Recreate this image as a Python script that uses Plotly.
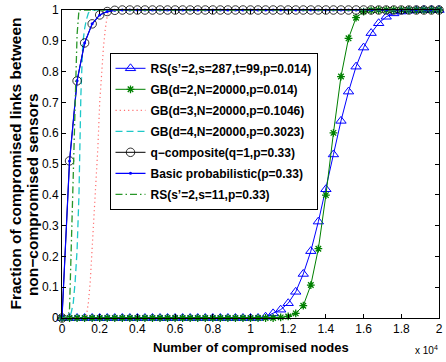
import plotly.graph_objects as go

# ---------------- data ----------------
x_coarse = list(range(0, 20001, 400))  # 51 sample points (0 ... 2 x 10^4)

rs1_y = [0]*27 + [0.004, 0.015, 0.027, 0.048, 0.085, 0.143, 0.217, 0.313, 0.418,
                  0.531, 0.64, 0.735, 0.816, 0.878, 0.925, 0.957, 0.978, 0.989,
                  0.995, 0.998, 0.999, 1, 1, 1]

gb2_y = [0]*29 + [0.002, 0.005, 0.015, 0.04, 0.107, 0.225, 0.399, 0.601, 0.784,
                  0.908, 0.975, 0.995, 0.999, 1, 1, 1, 1, 1, 1, 1, 1, 1]

qcomp_y = [0, 0.51, 0.77, 0.893, 0.955, 0.984, 0.995, 0.999] + [1]*43
basic_y = [0, 0.51, 0.77, 0.893, 0.955, 0.984, 0.995, 0.999] + [1]*43

gb3_x = [0, 1200, 1300, 1400, 1500, 1600, 1700, 1800, 1900, 2000, 2100, 2200, 2300, 2400, 2500, 20000]
gb3_y = [0, 0, 0.01, 0.05, 0.12, 0.22, 0.32, 0.42, 0.55, 0.7, 0.8, 0.88, 0.94, 0.98, 1, 1]

gb4_x = [0, 400, 500, 600, 700, 800, 900, 1000, 1100, 1200, 1300, 1400, 1500, 1600, 20000]
gb4_y = [0, 0, 0.02, 0.05, 0.12, 0.22, 0.4, 0.72, 0.89, 0.94, 0.97, 0.99, 0.998, 1, 1]

rs2_x = [0, 300, 400, 500, 600, 700, 800, 900, 20000]
rs2_y = [0, 0, 0.03, 0.22, 0.47, 0.7, 0.92, 1, 1]

x_tickvals = [0, 2000, 4000, 6000, 8000, 10000, 12000, 14000, 16000, 18000, 20000]
x_ticktext = ["0", "0.2", "0.4", "0.6", "0.8", "1", "1.2", "1.4", "1.6", "1.8", "2"]
y_tickvals = [0, 0.1, 0.2, 0.3, 0.4, 0.5, 0.6, 0.7, 0.8, 0.9, 1]
y_ticktext = ["0", "0.1", "0.2", "0.3", "0.4", "0.5", "0.6", "0.7", "0.8", "0.9", "1"]

names = [
    "RS(s’=2,s=287,t=99,p=0.014)",
    "GB(d=2,N=20000,p=0.014)",
    "GB(d=3,N=20000,p=0.1046)",
    "GB(d=4,N=20000,p=0.3023)",
    "q−composite(q=1,p=0.33)",
    "Basic probabilistic(p=0.33)",
    "RS(s’=2,s=11,p=0.33)",
]

BLUE = "#0000ff"
GREEN = "#008000"
FONT = "Liberation Sans, Arial, sans-serif"

fig = go.Figure()

fig.add_trace(go.Scatter(
    x=x_coarse, y=rs1_y, name=names[0], legendgroup="g1", mode="lines+markers",
    line=dict(color=BLUE, width=1),
    marker=dict(symbol="triangle-up-open", size=9, color=BLUE, line=dict(width=1, color=BLUE)),
    cliponaxis=False))
fig.add_trace(go.Scatter(
    x=x_coarse, y=gb2_y, name=names[1], legendgroup="g2", mode="lines+markers",
    line=dict(color=GREEN, width=1),
    marker=dict(symbol="asterisk-open", size=6.5, color=GREEN, line=dict(width=1.3, color=GREEN)),
    cliponaxis=False))
fig.add_trace(go.Scatter(
    x=gb3_x, y=gb3_y, name=names[2], legendgroup="g3", mode="lines",
    line=dict(color="rgb(255,110,110)", width=1.2, dash="1.2px,3px")))
fig.add_trace(go.Scatter(
    x=gb4_x, y=gb4_y, name=names[3], legendgroup="g4", mode="lines",
    line=dict(color="rgb(30,200,200)", width=1.3, dash="7px,4px")))
fig.add_trace(go.Scatter(
    x=x_coarse, y=qcomp_y, name=names[4], legendgroup="g5", mode="lines+markers",
    line=dict(color="black", width=1),
    marker=dict(symbol="circle-open", size=8.5, color="black", line=dict(width=0.8, color="black")),
    cliponaxis=False))
fig.add_trace(go.Scatter(
    x=x_coarse, y=basic_y, name=names[5], legendgroup="g6", mode="lines+markers",
    line=dict(color=BLUE, width=1.2),
    marker=dict(symbol="circle", size=3, color=BLUE),
    cliponaxis=False))
fig.add_trace(go.Scatter(
    x=rs2_x, y=rs2_y, name=names[6], legendgroup="g7", mode="lines",
    line=dict(color="rgb(40,150,40)", width=1.3, dash="7px,3px,1.5px,3px")))

axis_common = dict(
    showline=True, linecolor="black", linewidth=1, mirror="ticks",
    ticks="inside", ticklen=4, tickcolor="black", tickwidth=1,
    showgrid=False, zeroline=False, ticklabeloverflow="allow",
    tickfont=dict(family=FONT, size=12, color="black"),
)

fig.update_xaxes(range=[0, 20000], tickvals=x_tickvals, ticktext=x_ticktext, **axis_common)
fig.update_yaxes(range=[0, 1], tickvals=y_tickvals, ticktext=y_ticktext, **axis_common)

fig.update_layout(
    width=446, height=362,
    margin=dict(l=62, r=3, t=8, b=44),
    plot_bgcolor="white", paper_bgcolor="white",
    font=dict(family=FONT, color="black"),
    showlegend=True,
    legend=dict(
        x=0.126, y=0.861, xanchor="left", yanchor="top",
        bgcolor="white", bordercolor="black", borderwidth=1,
        font=dict(family=FONT, size=12, color="black", weight="bold"),
        traceorder="grouped", tracegroupgap=2,
    ),
    annotations=[
        dict(text="Number of compromised nodes", xref="paper", yref="paper",
             x=0.5, y=-0.0968, xanchor="center", yanchor="middle", showarrow=False,
             font=dict(family=FONT, size=13, weight="bold")),
        dict(text="Fraction of compromised links between", xref="paper", yref="paper",
             x=(15 - 62) / 381, y=(318 - 162) / 310, xanchor="center", yanchor="middle",
             textangle=-90, showarrow=False, font=dict(family=FONT, size=15.5, weight="bold")),
        dict(text="non−compromised sensors", xref="paper", yref="paper",
             x=(32 - 62) / 381, y=(318 - 194) / 310, xanchor="center", yanchor="middle",
             textangle=-90, showarrow=False, font=dict(family=FONT, size=15.5, weight="bold")),
        dict(text="x 10<sup>4</sup>", xref="paper", yref="paper",
             x=(444 - 62) / 381, y=(318 - 350) / 310, xanchor="right", yanchor="middle",
             showarrow=False, font=dict(family=FONT, size=10)),
    ],
)

fig.write_html("out.html")
